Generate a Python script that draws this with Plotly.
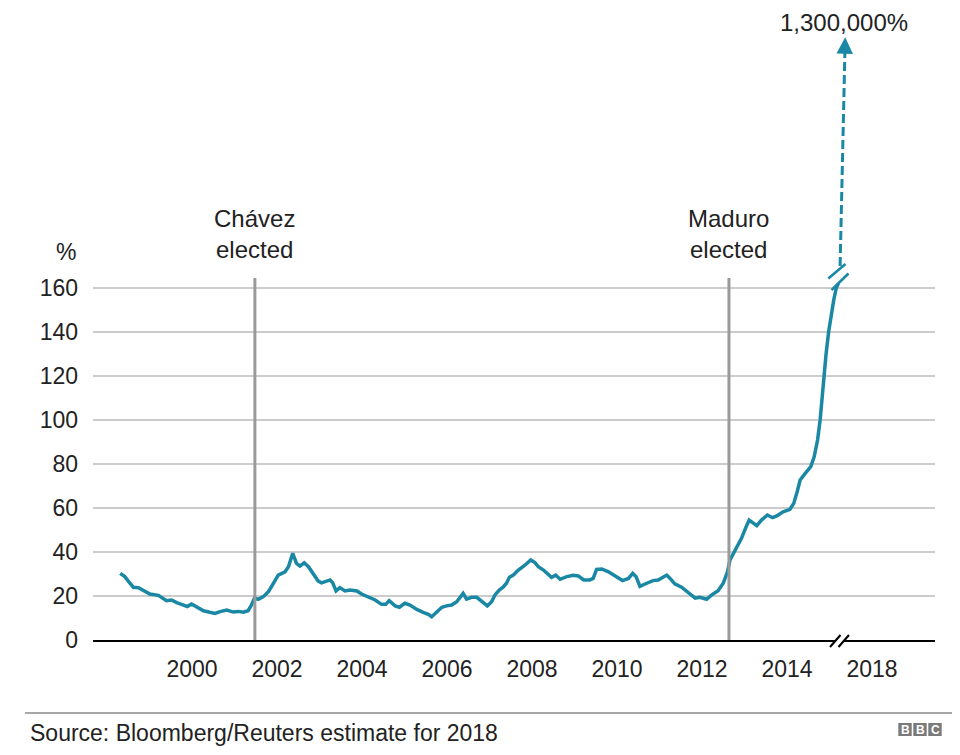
import plotly.graph_objects as go

# ---- data ----
years = [1998.31, 1998.42, 1998.54, 1998.62, 1998.74, 1998.85, 1999.01, 1999.21, 1999.32, 1999.40,
         1999.52, 1999.64, 1999.80, 1999.89, 1999.99, 2000.11, 2000.27, 2000.42, 2000.54, 2000.66,
         2000.82, 2000.97, 2001.09, 2001.21, 2001.32, 2001.40, 2001.47, 2001.56, 2001.68, 2001.80,
         2001.91, 2002.03, 2002.19, 2002.27, 2002.37, 2002.46, 2002.54, 2002.64, 2002.74, 2002.85,
         2002.97, 2003.05, 2003.13, 2003.25, 2003.31, 2003.39, 2003.48, 2003.60, 2003.72, 2003.88,
         2003.99, 2004.15, 2004.31, 2004.46, 2004.56, 2004.64, 2004.78, 2004.88, 2005.01, 2005.13,
         2005.29, 2005.44, 2005.56, 2005.64, 2005.76, 2005.88, 2005.99, 2006.11, 2006.23, 2006.35,
         2006.38, 2006.46, 2006.58, 2006.70, 2006.82, 2006.95, 2007.05, 2007.13, 2007.23, 2007.32,
         2007.40, 2007.47, 2007.56, 2007.68, 2007.84, 2007.97, 2008.07, 2008.15, 2008.27, 2008.36,
         2008.46, 2008.56, 2008.66, 2008.82, 2008.97, 2009.09, 2009.22, 2009.36, 2009.44, 2009.52,
         2009.64, 2009.80, 2009.95, 2010.13, 2010.27, 2010.37, 2010.45, 2010.54, 2010.70, 2010.85,
         2010.97, 2011.17, 2011.25, 2011.36, 2011.52, 2011.68, 2011.84, 2011.95, 2012.11, 2012.23,
         2012.38, 2012.50, 2012.60, 2012.66, 2012.78, 2012.93, 2013.04, 2013.11, 2013.29, 2013.40,
         2013.54, 2013.66, 2013.76, 2013.91, 2014.07, 2014.16, 2014.24, 2014.31, 2014.42, 2014.56,
         2014.64, 2014.72, 2014.78, 2014.82, 2014.86, 2014.92, 2014.98, 2015.04, 2015.10, 2015.16,
         2015.21]
inflation = [30.3, 28.8, 25.8, 24.0, 23.8, 22.7, 20.9, 20.3, 19.0, 17.9,
             18.2, 17.0, 15.9, 15.2, 16.4, 14.9, 13.3, 12.6, 12.1, 12.9,
             13.6, 12.7, 13.0, 12.6, 13.3, 15.9, 19.0, 18.5, 19.7, 22.0,
             25.8, 29.5, 31.0, 33.3, 39.4, 34.8, 33.6, 35.1, 33.3, 30.3,
             26.8, 26.0, 26.5, 27.3, 26.0, 22.3, 23.8, 22.3, 22.7, 22.3,
             20.9, 19.7, 18.2, 16.2, 16.2, 17.9, 15.5, 14.9, 16.7, 15.9,
             13.9, 12.6, 11.7, 10.6, 12.9, 14.9, 15.5, 15.9, 17.4, 20.0,
             21.2, 18.6, 19.4, 19.4, 17.4, 15.5, 17.4, 20.5, 22.7, 24.0,
             25.8, 28.5, 29.5, 31.8, 34.1, 36.4, 35.2, 33.3, 31.8, 30.3,
             28.5, 29.5, 27.6, 28.8, 29.4, 29.1, 27.3, 27.3, 28.0, 32.1,
             32.3, 31.0, 29.1, 27.0, 28.0, 30.3, 28.8, 24.4, 25.8, 27.0,
             27.3, 29.5, 28.0, 25.5, 24.0, 21.5, 19.0, 19.4, 18.5, 20.5,
             22.4, 25.8, 31.0, 36.4, 40.9, 46.2, 51.5, 54.5, 52.0, 54.5,
             56.8, 55.6, 56.4, 58.3, 59.4, 62.1, 67.4, 72.7, 75.5, 78.8,
             83.3, 90.9, 100.0, 110.0, 120.0, 130.0, 140.0, 148.0, 154.5, 160.0,
             162.1]

# projection beyond the axis break (drawn dashed, not to scale)
proj_years = [2015.25, 2015.365]
proj_values = [170.0, 269.0]
proj_label = "1,300,000%"

x_tickvals = [2000, 2002, 2004, 2006, 2008, 2010, 2012, 2014, 2016]
x_ticktext = ["2000", "2002", "2004", "2006", "2008", "2010", "2012", "2014", "2018"]
y_tickvals = [0, 20, 40, 60, 80, 100, 120, 140, 160]

events = ["Chávez<br>elected", "Maduro<br>elected"]
event_years = [2001.48, 2012.635]

source_text = "Source: Bloomberg/Reuters estimate for 2018"

# ---- styling ----
TEAL = "#1a88a4"
FONT = "Liberation Sans, Arial, Helvetica, sans-serif"
TXT = "#222222"
OFF = 8                      # page body margin
W, H = 960 - OFF, 755 - OFF
ML, MR, MT, MB = 93 - OFF, 25, 10 - OFF, 115
X0, X1 = 1997.671, 2017.483
PLOT_W = W - ML - MR
PLOT_H = H - MT - MB
Y1 = PLOT_H / 2.2

def px_x(px):  # page pixel -> paper x
    return (px - OFF - ML) / PLOT_W

def px_y(py):  # page pixel -> paper y
    return (H - MB - (py - OFF)) / PLOT_H

fig = go.Figure()

fig.add_trace(go.Scatter(x=years, y=inflation, mode="lines",
                         line=dict(color=TEAL, width=3.5), hoverinfo="skip",
                         showlegend=False))
fig.add_trace(go.Scatter(x=proj_years, y=proj_values, mode="lines",
                         line=dict(color=TEAL, width=3, dash="9px,4px"),
                         hoverinfo="skip", showlegend=False))

shapes = []
for ey in event_years:
    shapes.append(dict(type="line", xref="x", yref="y", x0=ey, x1=ey, y0=0, y1=164.5,
                       line=dict(color="#9a9a9a", width=3), layer="above"))

# axis break on the x axis
shapes.append(dict(type="rect", xref="paper", yref="paper",
                   x0=px_x(836), x1=px_x(844), y0=px_y(644), y1=px_y(637),
                   fillcolor="white", line=dict(width=0), layer="above"))
for dx in (0, 8.5):
    shapes.append(dict(type="line", xref="paper", yref="paper",
                       x0=px_x(830 + dx), y0=px_y(647), x1=px_x(840.5 + dx), y1=px_y(635),
                       line=dict(color="black", width=2), layer="above"))
# break on the series
shapes.append(dict(type="line", xref="paper", yref="paper",
                   x0=px_x(828.3), y0=px_y(278.5), x1=px_x(845.5), y1=px_y(264),
                   line=dict(color=TEAL, width=2.5), layer="above"))
shapes.append(dict(type="line", xref="paper", yref="paper",
                   x0=px_x(831.5), y0=px_y(290), x1=px_x(848.5), y1=px_y(273.5),
                   line=dict(color=TEAL, width=2.5), layer="above"))

# footer rule
shapes.append(dict(type="line", xref="paper", yref="paper",
                   x0=px_x(25), x1=px_x(956), y0=px_y(713), y1=px_y(713),
                   line=dict(color="#8a8a8a", width=1.5)))
# BBC blocks
for i, letter in enumerate("BBC"):
    bx = 898.3 + i * 15
    shapes.append(dict(type="rect", xref="paper", yref="paper",
                       x0=px_x(bx), x1=px_x(bx + 13.4), y0=px_y(736), y1=px_y(723),
                       fillcolor="#7a7a7a", line=dict(width=0)))

annotations = []
for label, ey in zip(events, event_years):
    annotations.append(dict(x=ey, y=px_y(234.5), xref="x", yref="paper", text=label,
                            showarrow=False, font=dict(family=FONT, size=24, color=TXT),
                            xanchor="center", yanchor="middle", align="center"))
annotations.append(dict(x=px_x(66), y=px_y(252), xref="paper", yref="paper", text="%",
                        showarrow=False, font=dict(family=FONT, size=23, color=TXT),
                        xanchor="center", yanchor="middle"))
annotations.append(dict(x=proj_years[1] + 0.005, y=proj_values[1] + 5, xref="x", yref="y",
                        ax=-0.4, ay=14, text="", showarrow=True, arrowhead=2,
                        arrowsize=1.1, arrowwidth=3, arrowcolor=TEAL, standoff=0))
annotations.append(dict(x=px_x(844), y=px_y(22), xref="paper", yref="paper",
                        text=proj_label, showarrow=False,
                        font=dict(family=FONT, size=24, color=TXT),
                        xanchor="center", yanchor="middle"))
annotations.append(dict(x=px_x(28), y=px_y(733), xref="paper", yref="paper",
                        text=source_text, showarrow=False,
                        font=dict(family=FONT, size=23, color=TXT),
                        xanchor="left", yanchor="middle"))
for i, letter in enumerate("BBC"):
    bx = 898.3 + i * 15 + 6.7
    annotations.append(dict(x=px_x(bx), y=px_y(729.8), xref="paper", yref="paper",
                            text=f"<b>{letter}</b>", showarrow=False,
                            font=dict(family=FONT, size=12, color="white"),
                            xanchor="center", yanchor="middle"))

fig.update_layout(
    width=W, height=H,
    margin=dict(l=ML, r=MR, t=MT, b=MB),
    paper_bgcolor="white", plot_bgcolor="white",
    font=dict(family=FONT, size=23, color=TXT),
    shapes=shapes, annotations=annotations, showlegend=False,
    xaxis=dict(range=[X0, X1], tickmode="array", tickvals=x_tickvals, ticktext=x_ticktext,
               showgrid=False, zeroline=False, showline=True, linecolor="black", linewidth=2,
               ticks="", ticklabelstandoff=7,
               tickfont=dict(family=FONT, size=23, color=TXT), fixedrange=True),
    yaxis=dict(range=[0, Y1], tickmode="array", tickvals=y_tickvals,
               showgrid=True, gridcolor="#cccccc", gridwidth=2, zeroline=False,
               showline=False, ticks="", ticklabelstandoff=14,
               tickfont=dict(family=FONT, size=23, color=TXT), fixedrange=True),
)

fig.write_html("out.html")
